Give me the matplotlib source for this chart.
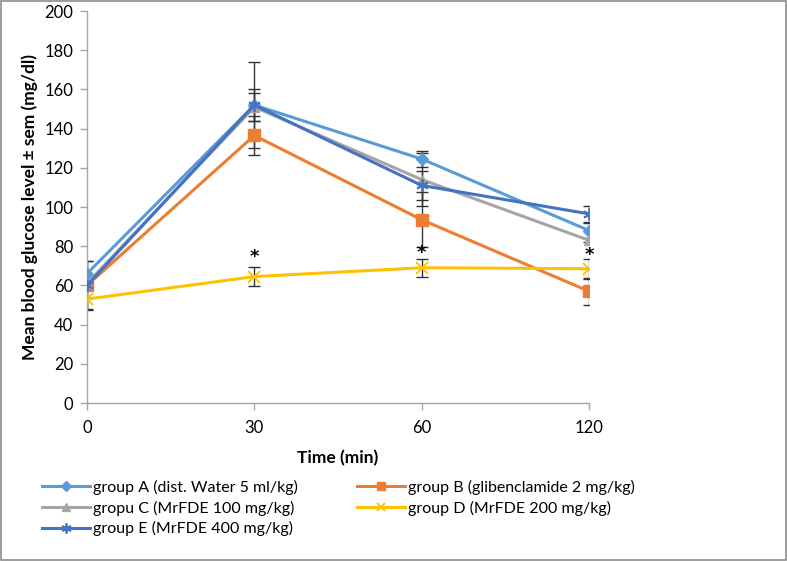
import matplotlib
matplotlib.use("Agg")
import matplotlib.pyplot as plt
from matplotlib.patches import Rectangle

plt.rcParams['font.family'] = ['Lato', 'DejaVu Sans']

times = ["0", "30", "60", "120"]
labels = ["group A (dist. Water 5 ml/kg)", "group B (glibenclamide 2 mg/kg)",
          "gropu C (MrFDE 100 mg/kg)", "group D (MrFDE 200 mg/kg)",
          "group E (MrFDE 400 mg/kg)"]
group_a = [66, 152, 124.5, 88]
group_b = [60, 136.5, 93.5, 57]
group_c = [61, 151, 114, 83]
group_d = [53, 64.5, 69, 68.5]
group_e = [60, 152, 111, 96.5]
sem_a = [6.5, 8, 4, 4]
sem_b = [12.5, 10, 14, 7]
sem_c = [2, 7, 13.5, 1]
sem_d = [5, 5, 4.7, 5]
sem_e = [2, 22, 7.5, 4]
star_idx = [1, 2, 3]
star_y = [74.5, 76.5, 75.5]

colors = ["#5B9BD5", "#ED7D31", "#A5A5A5", "#FFC000", "#4472C4"]
markers = ["D", "s", "^", "x", (6, 2, 0)]
msizes = [6, 8, 7, 8, 9]
series = [group_a, group_b, group_c, group_d, group_e]
sems = [sem_a, sem_b, sem_c, sem_d, sem_e]

fig = plt.figure(figsize=(7.87, 5.61), dpi=100)
ax = fig.add_axes([87/787, 1-403/561, (589-87)/787, (403-11)/561])

x = list(range(len(times)))
handles = []
for vals, err, c, m, ms, lab in zip(series, sems, colors, markers, msizes, labels):
    ax.errorbar(x, vals, yerr=err, fmt='none', ecolor='#333333', elinewidth=1.0,
                capsize=4, capthick=1.0, zorder=2)
    h, = ax.plot(x, vals, color=c, lw=2.2, marker=m, markersize=ms,
                 markeredgecolor=c, markerfacecolor=c,
                 mew=1.3 if m in ("x", (6, 2, 0)) else 1,
                 label=lab, zorder=3)
    handles.append(h)

for i, yv in zip(star_idx, star_y):
    ax.text(i, yv, "*", ha='center', va='center', fontsize=13, fontweight='bold',
            color='black', family='DejaVu Sans')

ax.set_xlim(0, 3)
ax.set_ylim(0, 200)
ax.set_yticks(range(0, 201, 20))
ax.set_xticks(x)
ax.set_xticklabels(times)
for s in ['top', 'right']:
    ax.spines[s].set_visible(False)
for s in ['left', 'bottom']:
    ax.spines[s].set_color('#A6A6A6')
    ax.spines[s].set_linewidth(1)
ax.tick_params(axis='both', colors='#A6A6A6', length=5, width=1, labelsize=12,
               labelcolor='black', direction='out')
ax.tick_params(axis='y', pad=5)
ax.tick_params(axis='x', pad=7)

fig.text(30/787, 1-207/561, "Mean blood glucose level \u00b1 sem (mg/dl)", rotation=90,
         ha='center', va='center', fontsize=12.5, fontweight='bold')
fig.text(338/787, 1-458/561, "Time (min)", ha='center', va='center', fontsize=12.5,
         fontweight='bold')

col1 = [handles[0], handles[2], handles[4]]
col2 = [handles[1], handles[3]]
for hs, xpx in ((col1, 42), (col2, 357)):
    fig.legend(handles=hs, labels=[h.get_label() for h in hs], loc='upper left',
               bbox_to_anchor=(xpx/787, 1-480/561), frameon=False, fontsize=11.5,
               borderpad=0, borderaxespad=0, handlelength=3.0, handletextpad=0.2,
               labelspacing=0.35, markerscale=0.8)

fig.patches.append(Rectangle((0.001, 0.001), 0.998, 0.997, transform=fig.transFigure,
                             fill=False, edgecolor='#8C8C8C', lw=1.2))

fig.savefig("out.png", dpi=100)
